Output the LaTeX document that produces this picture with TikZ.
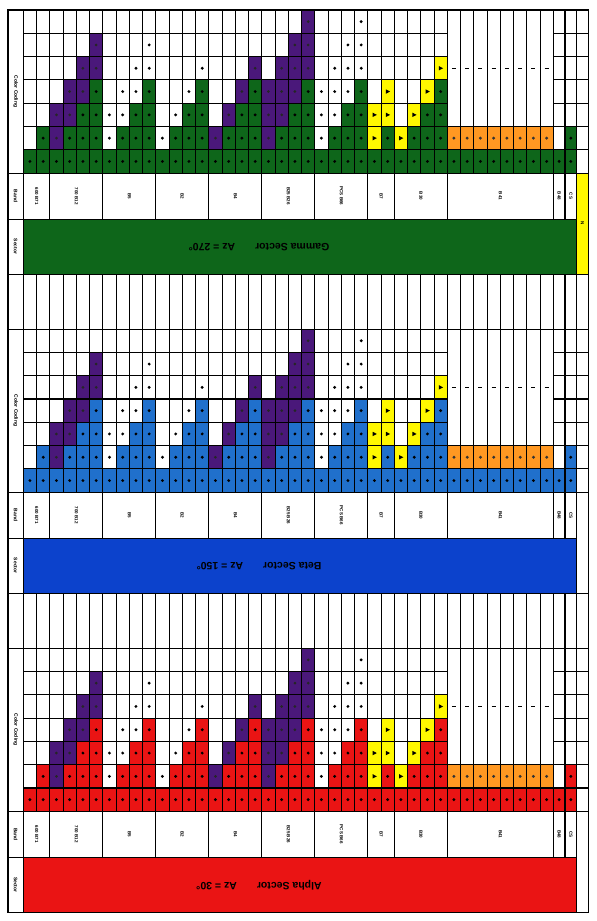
\documentclass[tikz,border=0pt]{standalone}
\usepackage{fontspec}
\setmainfont{Liberation Sans}
\usepackage{tikz}
\usetikzlibrary{calc}
\definecolor{gGreen}{RGB}{14,102,26}
\definecolor{bBlue}{RGB}{32,112,204}
\definecolor{bSector}{RGB}{12,66,204}
\definecolor{rRed}{RGB}{234,20,20}
\definecolor{pPurple}{RGB}{74,24,122}
\definecolor{yYellow}{RGB}{255,248,0}
\definecolor{oOrange}{RGB}{255,152,34}
\tikzset{
    cell/.style={draw=black, line width=1.1pt, fill=white},
    top p/.style={fill=pPurple},
    top d/.style={fill=white},
    top y/.style={fill=yYellow},
    top o/.style={fill=oOrange},
    mark p/.pic={\fill[black!85] (0,0) circle (1.5pt);},
    mark d/.pic={\fill (0,0) circle (1.6pt);},
    mark o/.pic={\fill[black!80] (0,0) circle (1.6pt);},
    mark y/.pic={\fill (-1.8,-2.2) -- (2.4,0) -- (-1.8,2.2) -- cycle;},
    rowlabel/.style={font=\fontsize{5}{6}\selectfont\bfseries, rotate=-90, inner sep=0pt},
    bandlabel/.style={font=\fontsize{4.5}{5}\selectfont\bfseries, rotate=-90, inner sep=0pt},
    sectorlabel/.style={font=\fontsize{10.5}{12}\selectfont\bfseries, rotate=180, inner sep=0pt}
}

\begin{document}
\begin{tikzpicture}[x=1pt, y=-1pt,
    declare function={colx(\col)=(\col<=41)*(23.3+(\col-1)*13.25)+(\col>41)*(553.3+(\col-41)*11.67);}]
\useasboundingbox (0,0) rectangle (597,921);

\foreach \p/\pcol/\scol/\sname/\az/\nfill in {0/gGreen/gGreen/Gamma/270/yYellow, 1/bBlue/bSector/Beta/150/white, 2/rRed/rRed/Alpha/30/white}{
    \pgfmathsetmacro\T{10+\p*319.1}
    % blank row above the lower sectors
    \ifnum\p>0
        \draw[cell] (8,\T-55) rectangle (23.3,\T);
        \foreach \col in {1,...,43}
            \draw[cell] ({colx(\col)},\T-55) rectangle ({colx(\col+1)},\T);
    \fi

    % empty color coding grid
    \foreach \col in {1,...,43}
        \foreach \row in {1,...,7}
            \draw[cell] ({colx(\col)},{\T+(7-\row)*23.3}) rectangle ({colx(\col+1)},{\T+(8-\row)*23.3});
    \foreach \col in {33,...,40}{
        \draw[cell] ({colx(\col)},\T) rectangle ({colx(\col+1)},{\T+5*23.3});
        \draw[line width=0.9pt] ({colx(\col)+4.6},{\T+2.5*23.3}) -- ({colx(\col)+8.6},{\T+2.5*23.3});
    }

    % filled cells: column / base cells / kind / cells of that kind on top
    \foreach \col/\base/\kind/\len in {1/1/d/0, 2/2/d/0,
        3/1/p/2, 4/2/p/2, 5/3/p/2, 6/4/p/2,
        7/1/d/2, 8/2/d/2, 9/3/d/2, 10/4/d/2,
        11/1/d/1, 12/2/d/1, 13/3/d/1, 14/4/d/1,
        15/1/p/1, 16/2/p/1, 17/3/p/1, 18/4/p/1,
        19/1/p/3, 20/2/p/3, 21/3/p/3, 22/4/p/3,
        23/1/d/3, 24/2/d/3, 25/3/d/3, 26/4/d/3,
        27/1/y/2, 28/2/y/2,
        29/1/y/1, 30/2/y/1, 31/3/y/1, 32/4/y/1,
        33/1/o/1, 34/1/o/1, 35/1/o/1, 36/1/o/1, 37/1/o/1, 38/1/o/1, 39/1/o/1, 40/1/o/1,
        41/1/d/0, 42/2/d/0}{
        \foreach \row in {1,...,\base}{
            \filldraw[cell, fill=\pcol] ({colx(\col)},{\T+(7-\row)*23.3}) rectangle ({colx(\col+1)},{\T+(8-\row)*23.3});
            \pic at ({(colx(\col)+colx(\col+1))/2},{\T+(7.5-\row)*23.3}) {mark d};
        }
        \ifnum\len>0
            \foreach \k in {1,...,\len}{
                \pgfmathtruncatemacro\row{\base+\k}
                \filldraw[cell, top \kind] ({colx(\col)},{\T+(7-\row)*23.3}) rectangle ({colx(\col+1)},{\T+(8-\row)*23.3});
                \pic at ({(colx(\col)+colx(\col+1))/2},{\T+(7.5-\row)*23.3}) {mark \kind};
            }
        \fi
    }

    % band row
    \foreach \a/\e/\lab in {1/3/600 B71, 3/7/700 B12, 7/11/B5, 11/15/B2, 15/19/B4,
        19/23/B25 B26, 23/27/PCS B66, 27/29/B7, 29/33/B30, 33/41/B41, 41/42/B48, 42/43/CS}{
        \draw[cell] ({colx(\a)},\T+163.1) rectangle ({colx(\e)},\T+209.1);
        \node[bandlabel] at ({(colx(\a)+colx(\e))/2},\T+186.1) {\lab};
    }
    \filldraw[cell, fill=\nfill] ({colx(43)},\T+163.1) rectangle ({colx(44)},\T+264.1);
    \ifnum\p=0
        \node[bandlabel] at ({(colx(43)+colx(44))/2},\T+213.6) {N};
    \fi

    % sector row
    \filldraw[cell, fill=\scol] ({colx(1)},\T+209.1) rectangle ({colx(43)},\T+264.1);
    \node[sectorlabel] at (259,\T+237) {\sname\ Sector\hspace{20pt}Az = \az°};

    % row titles
    \draw[cell] (8,\T) rectangle (23.3,\T+163.1);
    \node[rowlabel] at (15.6,\T+81.5) {Color Coding};
    \draw[cell] (8,\T+163.1) rectangle (23.3,\T+209.1);
    \node[rowlabel] at (15.6,\T+186.1) {Band};
    \draw[cell] (8,\T+209.1) rectangle (23.3,\T+264.1);
    \node[rowlabel] at (15.6,\T+236.6) {Sector};
}
\end{tikzpicture}
\end{document}
